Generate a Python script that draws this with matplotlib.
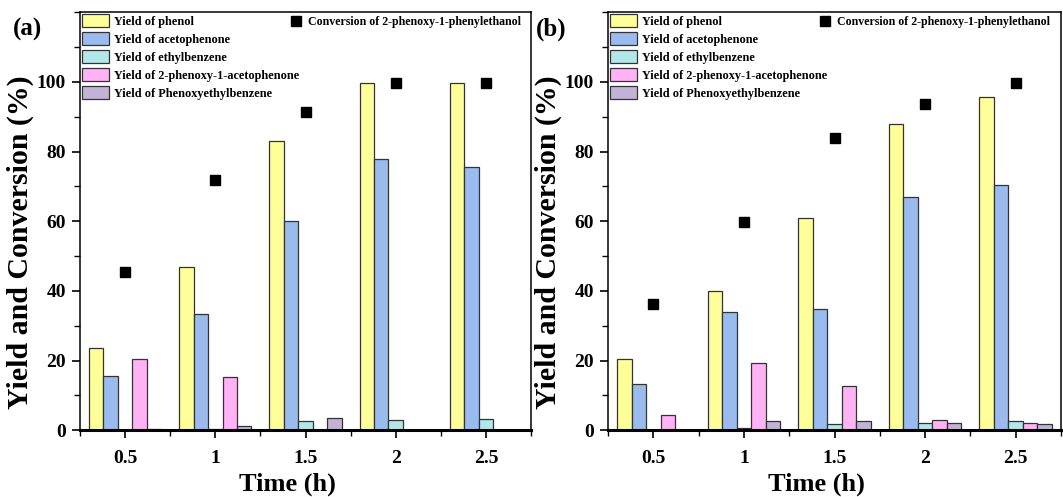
import numpy as np
import matplotlib
matplotlib.use('Agg')
import matplotlib.pyplot as plt
from matplotlib.ticker import MultipleLocator

plt.rcParams['font.family'] = ['Liberation Serif', 'DejaVu Serif']
plt.rcParams['font.weight'] = 'bold'

# reaction time (h)
time_h = [0.5, 1.0, 1.5, 2.0, 2.5]

# panel (a)
phenol_a = [23.5, 47.0, 83.0, 99.8, 99.8]
acetophenone_a = [15.5, 33.5, 60.2, 77.8, 75.5]
ethylbenzene_a = [0.0, 0.3, 2.6, 3.0, 3.2]
phenoxyacetophenone_a = [20.5, 15.3, 0.0, 0.0, 0.0]
phenoxyethylbenzene_a = [0.3, 1.1, 3.4, 0.0, 0.0]
conversion_a = [45.4, 72.0, 91.3, 99.8, 99.8]

# panel (b)
phenol_b = [20.4, 40.0, 60.9, 87.9, 95.6]
acetophenone_b = [13.2, 34.1, 34.8, 67.0, 70.5]
ethylbenzene_b = [0.0, 0.6, 1.8, 2.0, 2.6]
phenoxyacetophenone_b = [4.3, 19.2, 12.6, 2.9, 2.1]
phenoxyethylbenzene_b = [0.0, 2.6, 2.8, 2.1, 1.9]
conversion_b = [36.3, 59.8, 84.0, 93.8, 99.6]

bar_labels = ['Yield of phenol', 'Yield of acetophenone', 'Yield of ethylbenzene',
              'Yield of 2-phenoxy-1-acetophenone', 'Yield of Phenoxyethylbenzene']
conv_label = 'Conversion of 2-phenoxy-1-phenylethanol'
colors = ['#FFFF99', '#99BBEE', '#B3E6E8', '#FFB3F5', '#C2B3D6']

panels = [
    ('(a)', [phenol_a, acetophenone_a, ethylbenzene_a, phenoxyacetophenone_a, phenoxyethylbenzene_a], conversion_a),
    ('(b)', [phenol_b, acetophenone_b, ethylbenzene_b, phenoxyacetophenone_b, phenoxyethylbenzene_b], conversion_b),
]

W, H = 1063, 497
fig = plt.figure(figsize=(W / 100, H / 100), dpi=100)

# axes boxes in pixels: left, right, top, bottom
boxes = [(80, 531, 12.3, 430.3), (608, 1061, 12.3, 430.3)]
tag_pos = [(27, 29), (551, 29)]

width = 0.08
x = np.array(time_h)

for (tag, series, conv), (l, r, t, b), (tx, ty) in zip(panels, boxes, tag_pos):
    ax = fig.add_axes([l / W, 1 - b / H, (r - l) / W, (b - t) / H])

    handles = []
    for k, (vals, c) in enumerate(zip(series, colors)):
        h = ax.bar(x + (k - 2) * width, vals, width, color=c, edgecolor='#333333',
                   linewidth=0.9, label=bar_labels[k], zorder=2)
        handles.append(h)
    pts, = ax.plot(x, conv, 's', color='black', markersize=6.5, linestyle='none',
                   label=conv_label, zorder=3)

    ax.set_xlim(0.25, 2.75)
    ax.set_ylim(0, 120)
    ax.set_xticks(time_h)
    ax.set_xticklabels(['0.5', '1', '1.5', '2', '2.5'])
    ax.set_xticks(np.arange(0.25, 2.8, 0.5), minor=True)
    ax.set_yticks([0, 20, 40, 60, 80, 100])
    ax.yaxis.set_minor_locator(MultipleLocator(10))

    ax.tick_params(axis='both', which='major', direction='out', length=6, width=1.2,
                   labelsize=14)
    ax.tick_params(axis='both', which='minor', direction='out', length=4, width=1.0)
    ax.tick_params(axis='x', which='major', pad=8)
    ax.tick_params(axis='y', which='major', pad=4)
    for lab in ax.get_xticklabels() + ax.get_yticklabels():
        lab.set_fontweight('bold')

    for side in ['left', 'top', 'right']:
        ax.spines[side].set_linewidth(1.1)
    ax.spines['bottom'].set_linewidth(2.2)

    ax.set_xlabel('Time (h)', fontsize=19, fontweight='bold')
    ax.xaxis.set_label_coords(0.46, -0.10)
    ax.set_ylabel('Yield and Conversion (%)', fontsize=21.5, fontweight='bold')
    ax.yaxis.set_label_coords(-0.102, 0.45)

    leg1 = ax.legend(handles=handles, loc='upper left', bbox_to_anchor=(0.0, 1.0),
                     frameon=False, fontsize=8.8, handlelength=2.2, handleheight=1.3,
                     handletextpad=0.4, labelspacing=0.34, borderpad=0.15,
                     borderaxespad=0.0)
    ax.add_artist(leg1)
    ax.legend(handles=[pts], loc='upper left', bbox_to_anchor=(0.457, 1.0),
              frameon=False, fontsize=8.6, handlelength=1.0, handletextpad=0.5,
              borderpad=0.35, borderaxespad=0.0, markerscale=1.0)

    fig.text(tx / W, 1 - ty / H, tag, fontsize=18, fontweight='bold',
             ha='center', va='center')

fig.savefig('out.png', dpi=100)
